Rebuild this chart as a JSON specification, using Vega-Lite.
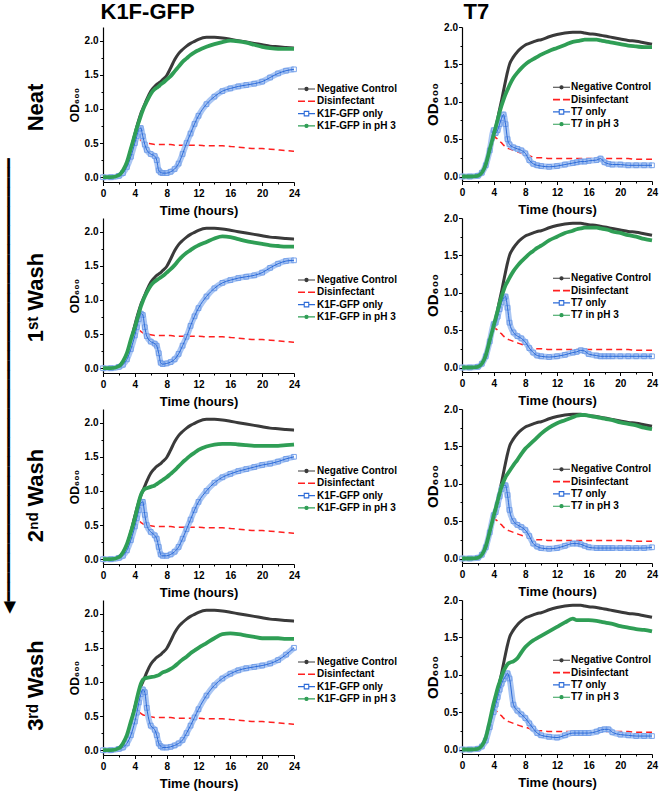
{
"$schema": "https://vega.github.io/schema/vega-lite/v6.json",
"padding": {"left": 0, "top": 0, "right": 0, "bottom": 0},
"autosize": {"type": "pad"},
"config": {
 "font": "Liberation Sans",
 "view": {"stroke": null},
 "axis": {"grid": false, "domainColor": "#000", "domainWidth": 1.2, "tickColor": "#000", "tickWidth": 1, "labelColor": "#000", "labelFont": "Liberation Sans", "labelFontSize": 10, "labelFontWeight": "bold", "titleColor": "#000", "titleFont": "Liberation Sans", "titleFontWeight": "bold", "titleFontSize": 13, "labelOverlap": false, "labelFlush": false},
 "legend": {"labelFont": "Liberation Sans", "labelFontSize": 10, "labelFontWeight": "bold", "labelColor": "#000", "padding": 0, "rowPadding": 2.3, "symbolSize": 100, "symbolStrokeWidth": 1, "labelLimit": 200},
 "title": {"font": "Liberation Sans", "color": "#000", "fontWeight": "bold"}
},
"datasets": {
 "k1f": [
  {"t":0,"nc":0,"dis":0,"o1":0,"p1":0,"o2":0,"p2":0,"o3":0,"p3":0,"o4":0,"p4":0},
  {"t":1,"nc":0,"dis":0,"o1":0,"p1":0,"o2":0,"p2":0,"o3":0,"p3":0,"o4":0,"p4":0},
  {"t":2,"nc":0.03,"dis":0.03,"o1":0.02,"p1":0.03,"o2":0.02,"p2":0.03,"o3":0.02,"p3":0.03,"o4":0.02,"p4":0.03},
  {"t":2.5,"nc":0.09,"dis":0.08,"o1":0.06,"p1":0.1,"o2":0.05,"p2":0.1,"o3":0.05,"p3":0.1,"o4":0.04,"p4":0.1},
  {"t":3,"nc":0.2,"dis":0.18,"o1":0.15,"p1":0.22,"o2":0.13,"p2":0.22,"o3":0.13,"p3":0.22,"o4":0.1,"p4":0.22},
  {"t":3.5,"nc":0.4,"dis":0.35,"o1":0.3,"p1":0.42,"o2":0.28,"p2":0.42,"o3":0.28,"p3":0.4,"o4":0.22,"p4":0.42},
  {"t":4,"nc":0.63,"dis":0.5,"o1":0.5,"p1":0.62,"o2":0.48,"p2":0.6,"o3":0.48,"p3":0.6,"o4":0.42,"p4":0.62},
  {"t":4.25,"nc":0.74,"dis":0.55,"o1":0.6,"p1":0.72,"o2":0.6,"p2":0.7,"o3":0.6,"p3":0.72,"o4":0.55,"p4":0.75},
  {"t":4.5,"nc":0.84,"dis":0.56,"o1":0.7,"p1":0.81,"o2":0.72,"p2":0.8,"o3":0.72,"p3":0.84,"o4":0.7,"p4":0.87},
  {"t":4.75,"nc":0.93,"dis":0.54,"o1":0.72,"p1":0.9,"o2":0.8,"p2":0.9,"o3":0.82,"p3":0.94,"o4":0.82,"p4":0.97},
  {"t":5,"nc":1.0,"dis":0.52,"o1":0.6,"p1":0.98,"o2":0.78,"p2":0.98,"o3":0.84,"p3":1.0,"o4":0.89,"p4":1.03},
  {"t":5.25,"nc":1.07,"dis":0.51,"o1":0.48,"p1":1.05,"o2":0.6,"p2":1.05,"o3":0.65,"p3":1.03,"o4":0.85,"p4":1.05},
  {"t":5.5,"nc":1.14,"dis":0.5,"o1":0.4,"p1":1.11,"o2":0.47,"p2":1.11,"o3":0.5,"p3":1.04,"o4":0.62,"p4":1.06},
  {"t":6,"nc":1.26,"dis":0.49,"o1":0.34,"p1":1.22,"o2":0.39,"p2":1.21,"o3":0.4,"p3":1.06,"o4":0.36,"p4":1.07},
  {"t":6.5,"nc":1.33,"dis":0.48,"o1":0.31,"p1":1.29,"o2":0.36,"p2":1.27,"o3":0.35,"p3":1.08,"o4":0.3,"p4":1.08},
  {"t":6.75,"nc":1.36,"dis":0.48,"o1":0.25,"p1":1.31,"o2":0.33,"p2":1.29,"o3":0.3,"p3":1.1,"o4":0.22,"p4":1.09},
  {"t":7,"nc":1.38,"dis":0.48,"o1":0.1,"p1":1.33,"o2":0.22,"p2":1.31,"o3":0.18,"p3":1.12,"o4":0.1,"p4":1.1},
  {"t":7.25,"nc":1.4,"dis":0.48,"o1":0.07,"p1":1.36,"o2":0.08,"p2":1.33,"o3":0.07,"p3":1.14,"o4":0.06,"p4":1.12},
  {"t":7.5,"nc":1.43,"dis":0.48,"o1":0.06,"p1":1.38,"o2":0.06,"p2":1.35,"o3":0.05,"p3":1.16,"o4":0.04,"p4":1.14},
  {"t":8,"nc":1.49,"dis":0.48,"o1":0.06,"p1":1.43,"o2":0.07,"p2":1.4,"o3":0.05,"p3":1.2,"o4":0.04,"p4":1.16},
  {"t":8.5,"nc":1.6,"dis":0.48,"o1":0.08,"p1":1.48,"o2":0.09,"p2":1.45,"o3":0.07,"p3":1.25,"o4":0.05,"p4":1.19},
  {"t":9,"nc":1.72,"dis":0.47,"o1":0.12,"p1":1.55,"o2":0.13,"p2":1.51,"o3":0.11,"p3":1.3,"o4":0.07,"p4":1.23},
  {"t":9.5,"nc":1.81,"dis":0.47,"o1":0.2,"p1":1.62,"o2":0.21,"p2":1.58,"o3":0.18,"p3":1.36,"o4":0.1,"p4":1.28},
  {"t":10,"nc":1.87,"dis":0.47,"o1":0.34,"p1":1.69,"o2":0.33,"p2":1.64,"o3":0.3,"p3":1.42,"o4":0.15,"p4":1.33},
  {"t":10.5,"nc":1.92,"dis":0.47,"o1":0.5,"p1":1.74,"o2":0.46,"p2":1.69,"o3":0.44,"p3":1.47,"o4":0.25,"p4":1.37},
  {"t":11,"nc":1.96,"dis":0.47,"o1":0.64,"p1":1.79,"o2":0.62,"p2":1.73,"o3":0.58,"p3":1.52,"o4":0.36,"p4":1.42},
  {"t":11.5,"nc":1.99,"dis":0.47,"o1":0.78,"p1":1.83,"o2":0.76,"p2":1.77,"o3":0.72,"p3":1.56,"o4":0.48,"p4":1.46},
  {"t":12,"nc":2.02,"dis":0.47,"o1":0.9,"p1":1.86,"o2":0.88,"p2":1.8,"o3":0.84,"p3":1.6,"o4":0.6,"p4":1.5},
  {"t":13,"nc":2.05,"dis":0.46,"o1":1.07,"p1":1.91,"o2":1.05,"p2":1.85,"o3":1.0,"p3":1.65,"o4":0.8,"p4":1.57},
  {"t":14,"nc":2.05,"dis":0.46,"o1":1.18,"p1":1.95,"o2":1.17,"p2":1.9,"o3":1.12,"p3":1.68,"o4":0.95,"p4":1.64},
  {"t":15,"nc":2.04,"dis":0.46,"o1":1.26,"p1":1.98,"o2":1.25,"p2":1.93,"o3":1.2,"p3":1.69,"o4":1.05,"p4":1.7},
  {"t":16,"nc":2.02,"dis":0.45,"o1":1.3,"p1":2.0,"o2":1.29,"p2":1.92,"o3":1.25,"p3":1.69,"o4":1.12,"p4":1.71},
  {"t":17,"nc":2.0,"dis":0.44,"o1":1.33,"p1":1.99,"o2":1.32,"p2":1.89,"o3":1.29,"p3":1.68,"o4":1.17,"p4":1.7},
  {"t":18,"nc":1.98,"dis":0.43,"o1":1.35,"p1":1.97,"o2":1.34,"p2":1.86,"o3":1.32,"p3":1.67,"o4":1.2,"p4":1.68},
  {"t":19,"nc":1.96,"dis":0.42,"o1":1.37,"p1":1.94,"o2":1.36,"p2":1.84,"o3":1.35,"p3":1.66,"o4":1.22,"p4":1.66},
  {"t":20,"nc":1.94,"dis":0.42,"o1":1.4,"p1":1.91,"o2":1.4,"p2":1.82,"o3":1.38,"p3":1.66,"o4":1.24,"p4":1.64},
  {"t":21,"nc":1.92,"dis":0.41,"o1":1.46,"p1":1.89,"o2":1.47,"p2":1.8,"o3":1.4,"p3":1.66,"o4":1.27,"p4":1.64},
  {"t":22,"nc":1.91,"dis":0.4,"o1":1.52,"p1":1.88,"o2":1.53,"p2":1.79,"o3":1.43,"p3":1.66,"o4":1.32,"p4":1.64},
  {"t":23,"nc":1.9,"dis":0.39,"o1":1.56,"p1":1.88,"o2":1.57,"p2":1.78,"o3":1.47,"p3":1.67,"o4":1.4,"p4":1.63},
  {"t":24,"nc":1.89,"dis":0.38,"o1":1.58,"p1":1.88,"o2":1.58,"p2":1.78,"o3":1.5,"p3":1.68,"o4":1.5,"p4":1.63}
 ],
 "t7": [
  {"t":0,"nc":0,"dis":0,"o1":0,"p1":0,"o2":0,"p2":0,"o3":0,"p3":0,"o4":0,"p4":0},
  {"t":1,"nc":0,"dis":0,"o1":0,"p1":0,"o2":0,"p2":0,"o3":0,"p3":0,"o4":0,"p4":0},
  {"t":2,"nc":0.01,"dis":0.01,"o1":0.01,"p1":0.01,"o2":0.01,"p2":0.01,"o3":0.01,"p3":0.01,"o4":0.01,"p4":0.01},
  {"t":2.5,"nc":0.04,"dis":0.04,"o1":0.05,"p1":0.05,"o2":0.05,"p2":0.05,"o3":0.05,"p3":0.05,"o4":0.04,"p4":0.05},
  {"t":3,"nc":0.14,"dis":0.14,"o1":0.15,"p1":0.16,"o2":0.15,"p2":0.16,"o3":0.15,"p3":0.16,"o4":0.12,"p4":0.16},
  {"t":3.5,"nc":0.32,"dis":0.32,"o1":0.35,"p1":0.36,"o2":0.35,"p2":0.36,"o3":0.35,"p3":0.36,"o4":0.3,"p4":0.38},
  {"t":4,"nc":0.53,"dis":0.55,"o1":0.62,"p1":0.56,"o2":0.58,"p2":0.56,"o3":0.58,"p3":0.57,"o4":0.5,"p4":0.62},
  {"t":4.25,"nc":0.65,"dis":0.52,"o1":0.58,"p1":0.66,"o2":0.6,"p2":0.66,"o3":0.62,"p3":0.67,"o4":0.6,"p4":0.72},
  {"t":4.5,"nc":0.77,"dis":0.5,"o1":0.62,"p1":0.76,"o2":0.68,"p2":0.76,"o3":0.72,"p3":0.77,"o4":0.7,"p4":0.82},
  {"t":4.75,"nc":0.9,"dis":0.47,"o1":0.7,"p1":0.86,"o2":0.78,"p2":0.86,"o3":0.83,"p3":0.87,"o4":0.8,"p4":0.9},
  {"t":5,"nc":1.02,"dis":0.45,"o1":0.78,"p1":0.95,"o2":0.87,"p2":0.95,"o3":0.93,"p3":0.96,"o4":0.88,"p4":0.98},
  {"t":5.25,"nc":1.15,"dis":0.42,"o1":0.83,"p1":1.03,"o2":0.93,"p2":1.03,"o3":0.98,"p3":1.03,"o4":0.94,"p4":1.05},
  {"t":5.5,"nc":1.28,"dis":0.4,"o1":0.7,"p1":1.1,"o2":0.95,"p2":1.1,"o3":0.98,"p3":1.09,"o4":0.98,"p4":1.1},
  {"t":5.75,"nc":1.4,"dis":0.38,"o1":0.5,"p1":1.16,"o2":0.8,"p2":1.15,"o3":0.85,"p3":1.13,"o4":1.02,"p4":1.14},
  {"t":6,"nc":1.5,"dis":0.37,"o1":0.43,"p1":1.22,"o2":0.6,"p2":1.2,"o3":0.65,"p3":1.17,"o4":0.95,"p4":1.16},
  {"t":6.5,"nc":1.6,"dis":0.35,"o1":0.39,"p1":1.32,"o2":0.47,"p2":1.29,"o3":0.5,"p3":1.25,"o4":0.6,"p4":1.18},
  {"t":7,"nc":1.67,"dis":0.33,"o1":0.37,"p1":1.39,"o2":0.42,"p2":1.36,"o3":0.45,"p3":1.32,"o4":0.52,"p4":1.22},
  {"t":7.5,"nc":1.72,"dis":0.31,"o1":0.35,"p1":1.45,"o2":0.39,"p2":1.42,"o3":0.42,"p3":1.4,"o4":0.47,"p4":1.3},
  {"t":8,"nc":1.76,"dis":0.3,"o1":0.31,"p1":1.5,"o2":0.34,"p2":1.47,"o3":0.38,"p3":1.47,"o4":0.42,"p4":1.37},
  {"t":8.5,"nc":1.78,"dis":0.28,"o1":0.22,"p1":1.54,"o2":0.26,"p2":1.52,"o3":0.3,"p3":1.52,"o4":0.35,"p4":1.42},
  {"t":9,"nc":1.8,"dis":0.26,"o1":0.17,"p1":1.57,"o2":0.2,"p2":1.56,"o3":0.2,"p3":1.57,"o4":0.28,"p4":1.46},
  {"t":9.5,"nc":1.82,"dis":0.25,"o1":0.15,"p1":1.6,"o2":0.16,"p2":1.6,"o3":0.16,"p3":1.62,"o4":0.22,"p4":1.49},
  {"t":10,"nc":1.83,"dis":0.25,"o1":0.14,"p1":1.63,"o2":0.15,"p2":1.63,"o3":0.14,"p3":1.67,"o4":0.19,"p4":1.52},
  {"t":11,"nc":1.87,"dis":0.24,"o1":0.13,"p1":1.68,"o2":0.14,"p2":1.7,"o3":0.13,"p3":1.75,"o4":0.17,"p4":1.58},
  {"t":12,"nc":1.9,"dis":0.24,"o1":0.14,"p1":1.72,"o2":0.15,"p2":1.75,"o3":0.14,"p3":1.81,"o4":0.16,"p4":1.64},
  {"t":13,"nc":1.92,"dis":0.24,"o1":0.16,"p1":1.76,"o2":0.17,"p2":1.8,"o3":0.17,"p3":1.85,"o4":0.19,"p4":1.7},
  {"t":14,"nc":1.93,"dis":0.24,"o1":0.18,"p1":1.8,"o2":0.2,"p2":1.83,"o3":0.2,"p3":1.89,"o4":0.22,"p4":1.75},
  {"t":14.5,"nc":1.93,"dis":0.24,"o1":0.19,"p1":1.81,"o2":0.21,"p2":1.85,"o3":0.2,"p3":1.91,"o4":0.22,"p4":1.73},
  {"t":15,"nc":1.93,"dis":0.24,"o1":0.2,"p1":1.82,"o2":0.23,"p2":1.86,"o3":0.19,"p3":1.92,"o4":0.22,"p4":1.73},
  {"t":15.5,"nc":1.92,"dis":0.24,"o1":0.2,"p1":1.83,"o2":0.22,"p2":1.87,"o3":0.17,"p3":1.92,"o4":0.22,"p4":1.73},
  {"t":16,"nc":1.91,"dis":0.24,"o1":0.21,"p1":1.83,"o2":0.18,"p2":1.87,"o3":0.15,"p3":1.91,"o4":0.22,"p4":1.73},
  {"t":17,"nc":1.9,"dis":0.24,"o1":0.22,"p1":1.83,"o2":0.16,"p2":1.87,"o3":0.14,"p3":1.89,"o4":0.24,"p4":1.72},
  {"t":17.5,"nc":1.89,"dis":0.24,"o1":0.24,"p1":1.82,"o2":0.15,"p2":1.86,"o3":0.14,"p3":1.88,"o4":0.26,"p4":1.71},
  {"t":18,"nc":1.88,"dis":0.24,"o1":0.19,"p1":1.81,"o2":0.15,"p2":1.85,"o3":0.14,"p3":1.87,"o4":0.27,"p4":1.7},
  {"t":18.5,"nc":1.87,"dis":0.24,"o1":0.17,"p1":1.8,"o2":0.15,"p2":1.84,"o3":0.14,"p3":1.86,"o4":0.27,"p4":1.69},
  {"t":19,"nc":1.86,"dis":0.24,"o1":0.16,"p1":1.79,"o2":0.15,"p2":1.82,"o3":0.14,"p3":1.85,"o4":0.23,"p4":1.68},
  {"t":20,"nc":1.84,"dis":0.24,"o1":0.16,"p1":1.77,"o2":0.15,"p2":1.8,"o3":0.14,"p3":1.82,"o4":0.2,"p4":1.65},
  {"t":21,"nc":1.82,"dis":0.24,"o1":0.15,"p1":1.75,"o2":0.15,"p2":1.77,"o3":0.14,"p3":1.8,"o4":0.19,"p4":1.63},
  {"t":22,"nc":1.81,"dis":0.23,"o1":0.15,"p1":1.74,"o2":0.15,"p2":1.75,"o3":0.14,"p3":1.78,"o4":0.18,"p4":1.61},
  {"t":23,"nc":1.79,"dis":0.23,"o1":0.15,"p1":1.73,"o2":0.15,"p2":1.72,"o3":0.14,"p3":1.75,"o4":0.18,"p4":1.6},
  {"t":24,"nc":1.77,"dis":0.23,"o1":0.15,"p1":1.73,"o2":0.15,"p2":1.7,"o3":0.15,"p3":1.73,"o4":0.18,"p4":1.58}
 ]
},
"concat": [
 {
  "width": 191, "height": 155,
  "title": {"text": "Neat", "orient": "left", "anchor": "middle", "fontSize": 22, "fontWeight": "bold", "offset": 20, "dx": -3},
  "data": {"name": "k1f"},
  "transform": [{"fold": ["nc", "dis", "o1", "p1"], "as": ["s", "v"]}],
  "encoding": {
   "x": {"field": "t", "type": "quantitative", "scale": {"domain": [0, 24], "nice": false, "zero": false}, "axis": null},
   "y": {"field": "v", "type": "quantitative", "scale": {"domain": [-0.07, 2.2], "nice": false, "zero": false}, "axis": {"values": [0,0.25,0.5,0.75,1,1.25,1.5,1.75,2], "labelExpr": "(datum.value*2) % 1 == 0 ? format(datum.value, '.1f') : ''", "tickSize": {"condition": {"test": "(datum.value*2) % 1 == 0", "value": 3.5}, "value": 2}, "labelPadding": 1.5, "title": "OD₆₀₀", "titleFontSize": 12, "titlePadding": 3}},
   "color": {"field": "s", "type": "nominal", "scale": {"domain": ["nc", "dis", "o1", "p1"], "range": ["#3a3a3a", "#ff2020", "#2c6bd8", "#2f9e55"]},
    "legend": {"orient": "none", "legendX": 198.5, "legendY": 57, "title": null, "labelOffset": 5.5,
     "labelExpr": "datum.label=='nc' ? 'Negative Control' : datum.label=='dis' ? 'Disinfectant' : indexof(datum.label,'o')==0 ? 'K1F-GFP only' : 'K1F-GFP in pH 3'",
     "encode": {"symbols": {"update": {
      "shape": {"signal": "datum.value=='dis' ? 'M-1.7,0H-0.3M0.3,0H1.7' : indexof(datum.value,'o')==0 ? 'M-1.7,0H-0.45M0.45,0H1.7M-0.45,-0.45H0.45V0.45H-0.45Z' : 'M-1.7,0H1.7M-0.32,0A0.32,0.32,0,1,0,0.32,0A0.32,0.32,0,1,0,-0.32,0Z'"},
      "fill": {"signal": "datum.value=='nc' ? '#3a3a3a' : datum.value=='dis' ? 'transparent' : indexof(datum.value,'o')==0 ? '#ffffff' : '#2f9e55'"},
      "stroke": {"signal": "datum.value=='nc' ? '#3a3a3a' : datum.value=='dis' ? '#ff2020' : indexof(datum.value,'o')==0 ? '#4a86e6' : '#2f9e55'"},
      "strokeWidth": {"signal": "datum.value=='dis' ? 1.6 : 1.1"},
      "opacity": {"value": 1}}}}}}
  },
  "resolve": {"axis": {"x": "independent"}},
  "layer": [
   {"transform": [{"filter": "datum.s=='nc'"}], "mark": {"type": "line", "strokeWidth": 3, "interpolate": "monotone"},
    "encoding": {"x": {"field": "t", "type": "quantitative", "scale": {"domain": [0, 24], "nice": false, "zero": false}, "axis": {"values": [0,2,4,6,8,10,12,14,16,18,20,22,24], "labelExpr": "datum.value % 4 == 0 ? datum.label : ''", "tickSize": {"condition": {"test": "datum.value % 4 == 0", "value": 3.5}, "value": 2}, "labelPadding": 3, "title": "Time (hours)", "titlePadding": 6}}}},
   {"transform": [{"filter": "datum.s=='dis'"}], "mark": {"type": "line", "strokeWidth": 1.5, "strokeDash": [6, 4], "interpolate": "monotone"},
    "encoding": {"x": {"field": "t", "type": "quantitative", "scale": {"domain": [0, 24], "nice": false, "zero": false}, "axis": {"orient": "top", "title": "K1F-GFP", "titleFontSize": 22, "titleFontWeight": "bold", "titleAnchor": "start", "titleAlign": "left", "titleX": -3, "domain": false, "ticks": false, "labels": false, "titlePadding": 4}}}},
   {"transform": [{"filter": "datum.s=='o1'"}], "mark": {"type": "line", "strokeWidth": 6, "interpolate": "monotone"}, "encoding": {"color": {"value": "#aac6f3"}}},
   {"transform": [{"filter": "datum.s=='o1'"}], "mark": {"type": "point", "shape": "square", "filled": false, "size": 22, "strokeWidth": 0.9, "opacity": 1}, "encoding": {"color": {"value": "#6d9be8"}}},
   {"transform": [{"filter": "datum.s=='o1'"}], "mark": {"type": "line", "strokeWidth": 1, "interpolate": "monotone"}},
   {"transform": [{"filter": "datum.s=='p1'"}], "mark": {"type": "line", "strokeWidth": 3.8, "interpolate": "monotone"}}
  ]
 },
 {
  "width": 190, "height": 154,
  "data": {"name": "t7"},
  "transform": [{"fold": ["nc", "dis", "o1", "p1"], "as": ["s", "v"]}],
  "encoding": {
   "x": {"field": "t", "type": "quantitative", "scale": {"domain": [0, 24], "nice": false, "zero": false}, "axis": null},
   "y": {"field": "v", "type": "quantitative", "scale": {"domain": [-0.06, 2.0], "nice": false, "zero": false}, "axis": {"values": [0,0.25,0.5,0.75,1,1.25,1.5,1.75,2], "labelExpr": "(datum.value*2) % 1 == 0 ? format(datum.value, '.1f') : ''", "tickSize": {"condition": {"test": "(datum.value*2) % 1 == 0", "value": 3.5}, "value": 2}, "labelPadding": 1, "title": "OD₆₀₀", "titleFontSize": 15, "titlePadding": 3}},
   "color": {"field": "s", "type": "nominal", "scale": {"domain": ["nc", "dis", "o1", "p1"], "range": ["#3a3a3a", "#ff2020", "#2c6bd8", "#2f9e55"]},
    "legend": {"orient": "none", "legendX": 94.5, "legendY": 55.3, "title": null, "labelOffset": 4.5,
     "labelExpr": "datum.label=='nc' ? 'Negative Control' : datum.label=='dis' ? 'Disinfectant' : indexof(datum.label,'o')==0 ? 'T7 only' : 'T7 in pH 3'",
     "encode": {"symbols": {"update": {
      "shape": {"signal": "datum.value=='dis' ? 'M-1.7,0H-0.3M0.3,0H1.7' : indexof(datum.value,'o')==0 ? 'M-1.7,0H-0.45M0.45,0H1.7M-0.45,-0.45H0.45V0.45H-0.45Z' : 'M-1.7,0H1.7M-0.32,0A0.32,0.32,0,1,0,0.32,0A0.32,0.32,0,1,0,-0.32,0Z'"},
      "fill": {"signal": "datum.value=='nc' ? '#3a3a3a' : datum.value=='dis' ? 'transparent' : indexof(datum.value,'o')==0 ? '#ffffff' : '#2f9e55'"},
      "stroke": {"signal": "datum.value=='nc' ? '#3a3a3a' : datum.value=='dis' ? '#ff2020' : indexof(datum.value,'o')==0 ? '#4a86e6' : '#2f9e55'"},
      "strokeWidth": {"signal": "datum.value=='dis' ? 1.6 : 1.1"},
      "opacity": {"value": 1}}}}}}
  },
  "resolve": {"axis": {"x": "independent"}},
  "layer": [
   {"transform": [{"filter": "datum.s=='nc'"}], "mark": {"type": "line", "strokeWidth": 3, "interpolate": "monotone"},
    "encoding": {"x": {"field": "t", "type": "quantitative", "scale": {"domain": [0, 24], "nice": false, "zero": false}, "axis": {"values": [0,2,4,6,8,10,12,14,16,18,20,22,24], "labelExpr": "datum.value % 4 == 0 ? datum.label : ''", "tickSize": {"condition": {"test": "datum.value % 4 == 0", "value": 3.5}, "value": 2}, "labelPadding": 3, "title": "Time (hours)", "titlePadding": 6}}}},
   {"transform": [{"filter": "datum.s=='dis'"}], "mark": {"type": "line", "strokeWidth": 1.5, "strokeDash": [6, 4], "interpolate": "monotone"},
    "encoding": {"x": {"field": "t", "type": "quantitative", "scale": {"domain": [0, 24], "nice": false, "zero": false}, "axis": {"orient": "top", "title": "T7", "titleFontSize": 22, "titleFontWeight": "bold", "titleAnchor": "start", "titleAlign": "left", "titleX": 1, "domain": false, "ticks": false, "labels": false, "titlePadding": 4}}}},
   {"transform": [{"filter": "datum.s=='o1'"}], "mark": {"type": "line", "strokeWidth": 6, "interpolate": "monotone"}, "encoding": {"color": {"value": "#aac6f3"}}},
   {"transform": [{"filter": "datum.s=='o1'"}], "mark": {"type": "point", "shape": "square", "filled": false, "size": 22, "strokeWidth": 0.9, "opacity": 1}, "encoding": {"color": {"value": "#6d9be8"}}},
   {"transform": [{"filter": "datum.s=='o1'"}], "mark": {"type": "line", "strokeWidth": 1, "interpolate": "monotone"}},
   {"transform": [{"filter": "datum.s=='p1'"}], "mark": {"type": "line", "strokeWidth": 3.8, "interpolate": "monotone"}}
  ]
 },
 {
  "width": 191, "height": 155,
  "title": {"text": "1ˢᵗ Wash", "orient": "left", "anchor": "middle", "fontSize": 22, "fontWeight": "bold", "offset": 20, "dx": -2},
  "data": {"name": "k1f"},
  "transform": [{"fold": ["nc", "dis", "o2", "p2"], "as": ["s", "v"]}],
  "encoding": {
   "x": {"field": "t", "type": "quantitative", "scale": {"domain": [0, 24], "nice": false, "zero": false}, "axis": {"values": [0,2,4,6,8,10,12,14,16,18,20,22,24], "labelExpr": "datum.value % 4 == 0 ? datum.label : ''", "tickSize": {"condition": {"test": "datum.value % 4 == 0", "value": 3.5}, "value": 2}, "labelPadding": 3, "title": "Time (hours)", "titlePadding": 6}},
   "y": {"field": "v", "type": "quantitative", "scale": {"domain": [-0.07, 2.2], "nice": false, "zero": false}, "axis": {"values": [0,0.25,0.5,0.75,1,1.25,1.5,1.75,2], "labelExpr": "(datum.value*2) % 1 == 0 ? format(datum.value, '.1f') : ''", "tickSize": {"condition": {"test": "(datum.value*2) % 1 == 0", "value": 3.5}, "value": 2}, "labelPadding": 1.5, "title": "OD₆₀₀", "titleFontSize": 12, "titlePadding": 3}},
   "color": {"field": "s", "type": "nominal", "scale": {"domain": ["nc", "dis", "o2", "p2"], "range": ["#3a3a3a", "#ff2020", "#2c6bd8", "#2f9e55"]},
    "legend": {"orient": "none", "legendX": 198.5, "legendY": 57, "title": null, "labelOffset": 5.5,
     "labelExpr": "datum.label=='nc' ? 'Negative Control' : datum.label=='dis' ? 'Disinfectant' : indexof(datum.label,'o')==0 ? 'K1F-GFP only' : 'K1F-GFP in pH 3'",
     "encode": {"symbols": {"update": {
      "shape": {"signal": "datum.value=='dis' ? 'M-1.7,0H-0.3M0.3,0H1.7' : indexof(datum.value,'o')==0 ? 'M-1.7,0H-0.45M0.45,0H1.7M-0.45,-0.45H0.45V0.45H-0.45Z' : 'M-1.7,0H1.7M-0.32,0A0.32,0.32,0,1,0,0.32,0A0.32,0.32,0,1,0,-0.32,0Z'"},
      "fill": {"signal": "datum.value=='nc' ? '#3a3a3a' : datum.value=='dis' ? 'transparent' : indexof(datum.value,'o')==0 ? '#ffffff' : '#2f9e55'"},
      "stroke": {"signal": "datum.value=='nc' ? '#3a3a3a' : datum.value=='dis' ? '#ff2020' : indexof(datum.value,'o')==0 ? '#4a86e6' : '#2f9e55'"},
      "strokeWidth": {"signal": "datum.value=='dis' ? 1.6 : 1.1"},
      "opacity": {"value": 1}}}}}}
  },
  "layer": [
   {"transform": [{"filter": "datum.s=='nc'"}], "mark": {"type": "line", "strokeWidth": 3, "interpolate": "monotone"}},
   {"transform": [{"filter": "datum.s=='dis'"}], "mark": {"type": "line", "strokeWidth": 1.5, "strokeDash": [6, 4], "interpolate": "monotone"}},
   {"transform": [{"filter": "datum.s=='o2'"}], "mark": {"type": "line", "strokeWidth": 6, "interpolate": "monotone"}, "encoding": {"color": {"value": "#aac6f3"}}},
   {"transform": [{"filter": "datum.s=='o2'"}], "mark": {"type": "point", "shape": "square", "filled": false, "size": 22, "strokeWidth": 0.9, "opacity": 1}, "encoding": {"color": {"value": "#6d9be8"}}},
   {"transform": [{"filter": "datum.s=='o2'"}], "mark": {"type": "line", "strokeWidth": 1, "interpolate": "monotone"}},
   {"transform": [{"filter": "datum.s=='p2'"}], "mark": {"type": "line", "strokeWidth": 3.8, "interpolate": "monotone"}}
  ]
 },
 {
  "width": 190, "height": 154,
  "title": {"text": "◀━━━━━━━━━━━━━━━━━━━━━━━━━━━━━━━━━━━━━━━━━━━━━━", "orient": "left", "anchor": "middle", "font": "DejaVu Sans", "fontSize": 16, "fontWeight": "normal", "offset": 409, "dx": -91},
  "data": {"name": "t7"},
  "transform": [{"fold": ["nc", "dis", "o2", "p2"], "as": ["s", "v"]}],
  "encoding": {
   "x": {"field": "t", "type": "quantitative", "scale": {"domain": [0, 24], "nice": false, "zero": false}, "axis": {"values": [0,2,4,6,8,10,12,14,16,18,20,22,24], "labelExpr": "datum.value % 4 == 0 ? datum.label : ''", "tickSize": {"condition": {"test": "datum.value % 4 == 0", "value": 3.5}, "value": 2}, "labelPadding": 3, "title": "Time (hours)", "titlePadding": 6}},
   "y": {"field": "v", "type": "quantitative", "scale": {"domain": [-0.06, 2.0], "nice": false, "zero": false}, "axis": {"values": [0,0.25,0.5,0.75,1,1.25,1.5,1.75,2], "labelExpr": "(datum.value*2) % 1 == 0 ? format(datum.value, '.1f') : ''", "tickSize": {"condition": {"test": "(datum.value*2) % 1 == 0", "value": 3.5}, "value": 2}, "labelPadding": 1, "title": "OD₆₀₀", "titleFontSize": 15, "titlePadding": 3}},
   "color": {"field": "s", "type": "nominal", "scale": {"domain": ["nc", "dis", "o2", "p2"], "range": ["#3a3a3a", "#ff2020", "#2c6bd8", "#2f9e55"]},
    "legend": {"orient": "none", "legendX": 94.5, "legendY": 55.3, "title": null, "labelOffset": 4.5,
     "labelExpr": "datum.label=='nc' ? 'Negative Control' : datum.label=='dis' ? 'Disinfectant' : indexof(datum.label,'o')==0 ? 'T7 only' : 'T7 in pH 3'",
     "encode": {"symbols": {"update": {
      "shape": {"signal": "datum.value=='dis' ? 'M-1.7,0H-0.3M0.3,0H1.7' : indexof(datum.value,'o')==0 ? 'M-1.7,0H-0.45M0.45,0H1.7M-0.45,-0.45H0.45V0.45H-0.45Z' : 'M-1.7,0H1.7M-0.32,0A0.32,0.32,0,1,0,0.32,0A0.32,0.32,0,1,0,-0.32,0Z'"},
      "fill": {"signal": "datum.value=='nc' ? '#3a3a3a' : datum.value=='dis' ? 'transparent' : indexof(datum.value,'o')==0 ? '#ffffff' : '#2f9e55'"},
      "stroke": {"signal": "datum.value=='nc' ? '#3a3a3a' : datum.value=='dis' ? '#ff2020' : indexof(datum.value,'o')==0 ? '#4a86e6' : '#2f9e55'"},
      "strokeWidth": {"signal": "datum.value=='dis' ? 1.6 : 1.1"},
      "opacity": {"value": 1}}}}}}
  },
  "layer": [
   {"transform": [{"filter": "datum.s=='nc'"}], "mark": {"type": "line", "strokeWidth": 3, "interpolate": "monotone"}},
   {"transform": [{"filter": "datum.s=='dis'"}], "mark": {"type": "line", "strokeWidth": 1.5, "strokeDash": [6, 4], "interpolate": "monotone"}},
   {"transform": [{"filter": "datum.s=='o2'"}], "mark": {"type": "line", "strokeWidth": 6, "interpolate": "monotone"}, "encoding": {"color": {"value": "#aac6f3"}}},
   {"transform": [{"filter": "datum.s=='o2'"}], "mark": {"type": "point", "shape": "square", "filled": false, "size": 22, "strokeWidth": 0.9, "opacity": 1}, "encoding": {"color": {"value": "#6d9be8"}}},
   {"transform": [{"filter": "datum.s=='o2'"}], "mark": {"type": "line", "strokeWidth": 1, "interpolate": "monotone"}},
   {"transform": [{"filter": "datum.s=='p2'"}], "mark": {"type": "line", "strokeWidth": 3.8, "interpolate": "monotone"}}
  ]
 },
 {
  "width": 191, "height": 155,
  "title": {"text": "2ⁿᵈ Wash", "orient": "left", "anchor": "middle", "fontSize": 22, "fontWeight": "bold", "offset": 20, "dx": -9},
  "data": {"name": "k1f"},
  "transform": [{"fold": ["nc", "dis", "o3", "p3"], "as": ["s", "v"]}],
  "encoding": {
   "x": {"field": "t", "type": "quantitative", "scale": {"domain": [0, 24], "nice": false, "zero": false}, "axis": {"values": [0,2,4,6,8,10,12,14,16,18,20,22,24], "labelExpr": "datum.value % 4 == 0 ? datum.label : ''", "tickSize": {"condition": {"test": "datum.value % 4 == 0", "value": 3.5}, "value": 2}, "labelPadding": 3, "title": "Time (hours)", "titlePadding": 6}},
   "y": {"field": "v", "type": "quantitative", "scale": {"domain": [-0.07, 2.2], "nice": false, "zero": false}, "axis": {"values": [0,0.25,0.5,0.75,1,1.25,1.5,1.75,2], "labelExpr": "(datum.value*2) % 1 == 0 ? format(datum.value, '.1f') : ''", "tickSize": {"condition": {"test": "(datum.value*2) % 1 == 0", "value": 3.5}, "value": 2}, "labelPadding": 1.5, "title": "OD₆₀₀", "titleFontSize": 12, "titlePadding": 3}},
   "color": {"field": "s", "type": "nominal", "scale": {"domain": ["nc", "dis", "o3", "p3"], "range": ["#3a3a3a", "#ff2020", "#2c6bd8", "#2f9e55"]},
    "legend": {"orient": "none", "legendX": 198.5, "legendY": 57, "title": null, "labelOffset": 5.5,
     "labelExpr": "datum.label=='nc' ? 'Negative Control' : datum.label=='dis' ? 'Disinfectant' : indexof(datum.label,'o')==0 ? 'K1F-GFP only' : 'K1F-GFP in pH 3'",
     "encode": {"symbols": {"update": {
      "shape": {"signal": "datum.value=='dis' ? 'M-1.7,0H-0.3M0.3,0H1.7' : indexof(datum.value,'o')==0 ? 'M-1.7,0H-0.45M0.45,0H1.7M-0.45,-0.45H0.45V0.45H-0.45Z' : 'M-1.7,0H1.7M-0.32,0A0.32,0.32,0,1,0,0.32,0A0.32,0.32,0,1,0,-0.32,0Z'"},
      "fill": {"signal": "datum.value=='nc' ? '#3a3a3a' : datum.value=='dis' ? 'transparent' : indexof(datum.value,'o')==0 ? '#ffffff' : '#2f9e55'"},
      "stroke": {"signal": "datum.value=='nc' ? '#3a3a3a' : datum.value=='dis' ? '#ff2020' : indexof(datum.value,'o')==0 ? '#4a86e6' : '#2f9e55'"},
      "strokeWidth": {"signal": "datum.value=='dis' ? 1.6 : 1.1"},
      "opacity": {"value": 1}}}}}}
  },
  "layer": [
   {"transform": [{"filter": "datum.s=='nc'"}], "mark": {"type": "line", "strokeWidth": 3, "interpolate": "monotone"}},
   {"transform": [{"filter": "datum.s=='dis'"}], "mark": {"type": "line", "strokeWidth": 1.5, "strokeDash": [6, 4], "interpolate": "monotone"}},
   {"transform": [{"filter": "datum.s=='o3'"}], "mark": {"type": "line", "strokeWidth": 6, "interpolate": "monotone"}, "encoding": {"color": {"value": "#aac6f3"}}},
   {"transform": [{"filter": "datum.s=='o3'"}], "mark": {"type": "point", "shape": "square", "filled": false, "size": 22, "strokeWidth": 0.9, "opacity": 1}, "encoding": {"color": {"value": "#6d9be8"}}},
   {"transform": [{"filter": "datum.s=='o3'"}], "mark": {"type": "line", "strokeWidth": 1, "interpolate": "monotone"}},
   {"transform": [{"filter": "datum.s=='p3'"}], "mark": {"type": "line", "strokeWidth": 3.8, "interpolate": "monotone"}}
  ]
 },
 {
  "width": 190, "height": 154,
  "data": {"name": "t7"},
  "transform": [{"fold": ["nc", "dis", "o3", "p3"], "as": ["s", "v"]}],
  "encoding": {
   "x": {"field": "t", "type": "quantitative", "scale": {"domain": [0, 24], "nice": false, "zero": false}, "axis": {"values": [0,2,4,6,8,10,12,14,16,18,20,22,24], "labelExpr": "datum.value % 4 == 0 ? datum.label : ''", "tickSize": {"condition": {"test": "datum.value % 4 == 0", "value": 3.5}, "value": 2}, "labelPadding": 3, "title": "Time (hours)", "titlePadding": 6}},
   "y": {"field": "v", "type": "quantitative", "scale": {"domain": [-0.06, 2.0], "nice": false, "zero": false}, "axis": {"values": [0,0.25,0.5,0.75,1,1.25,1.5,1.75,2], "labelExpr": "(datum.value*2) % 1 == 0 ? format(datum.value, '.1f') : ''", "tickSize": {"condition": {"test": "(datum.value*2) % 1 == 0", "value": 3.5}, "value": 2}, "labelPadding": 1, "title": "OD₆₀₀", "titleFontSize": 15, "titlePadding": 3}},
   "color": {"field": "s", "type": "nominal", "scale": {"domain": ["nc", "dis", "o3", "p3"], "range": ["#3a3a3a", "#ff2020", "#2c6bd8", "#2f9e55"]},
    "legend": {"orient": "none", "legendX": 94.5, "legendY": 55.3, "title": null, "labelOffset": 4.5,
     "labelExpr": "datum.label=='nc' ? 'Negative Control' : datum.label=='dis' ? 'Disinfectant' : indexof(datum.label,'o')==0 ? 'T7 only' : 'T7 in pH 3'",
     "encode": {"symbols": {"update": {
      "shape": {"signal": "datum.value=='dis' ? 'M-1.7,0H-0.3M0.3,0H1.7' : indexof(datum.value,'o')==0 ? 'M-1.7,0H-0.45M0.45,0H1.7M-0.45,-0.45H0.45V0.45H-0.45Z' : 'M-1.7,0H1.7M-0.32,0A0.32,0.32,0,1,0,0.32,0A0.32,0.32,0,1,0,-0.32,0Z'"},
      "fill": {"signal": "datum.value=='nc' ? '#3a3a3a' : datum.value=='dis' ? 'transparent' : indexof(datum.value,'o')==0 ? '#ffffff' : '#2f9e55'"},
      "stroke": {"signal": "datum.value=='nc' ? '#3a3a3a' : datum.value=='dis' ? '#ff2020' : indexof(datum.value,'o')==0 ? '#4a86e6' : '#2f9e55'"},
      "strokeWidth": {"signal": "datum.value=='dis' ? 1.6 : 1.1"},
      "opacity": {"value": 1}}}}}}
  },
  "layer": [
   {"transform": [{"filter": "datum.s=='nc'"}], "mark": {"type": "line", "strokeWidth": 3, "interpolate": "monotone"}},
   {"transform": [{"filter": "datum.s=='dis'"}], "mark": {"type": "line", "strokeWidth": 1.5, "strokeDash": [6, 4], "interpolate": "monotone"}},
   {"transform": [{"filter": "datum.s=='o3'"}], "mark": {"type": "line", "strokeWidth": 6, "interpolate": "monotone"}, "encoding": {"color": {"value": "#aac6f3"}}},
   {"transform": [{"filter": "datum.s=='o3'"}], "mark": {"type": "point", "shape": "square", "filled": false, "size": 22, "strokeWidth": 0.9, "opacity": 1}, "encoding": {"color": {"value": "#6d9be8"}}},
   {"transform": [{"filter": "datum.s=='o3'"}], "mark": {"type": "line", "strokeWidth": 1, "interpolate": "monotone"}},
   {"transform": [{"filter": "datum.s=='p3'"}], "mark": {"type": "line", "strokeWidth": 3.8, "interpolate": "monotone"}}
  ]
 },
 {
  "width": 191, "height": 155,
  "title": {"text": "3ʳᵈ Wash", "orient": "left", "anchor": "middle", "fontSize": 22, "fontWeight": "bold", "offset": 20, "dx": -8},
  "data": {"name": "k1f"},
  "transform": [{"fold": ["nc", "dis", "o4", "p4"], "as": ["s", "v"]}],
  "encoding": {
   "x": {"field": "t", "type": "quantitative", "scale": {"domain": [0, 24], "nice": false, "zero": false}, "axis": {"values": [0,2,4,6,8,10,12,14,16,18,20,22,24], "labelExpr": "datum.value % 4 == 0 ? datum.label : ''", "tickSize": {"condition": {"test": "datum.value % 4 == 0", "value": 3.5}, "value": 2}, "labelPadding": 3, "title": "Time (hours)", "titlePadding": 6}},
   "y": {"field": "v", "type": "quantitative", "scale": {"domain": [-0.07, 2.2], "nice": false, "zero": false}, "axis": {"values": [0,0.25,0.5,0.75,1,1.25,1.5,1.75,2], "labelExpr": "(datum.value*2) % 1 == 0 ? format(datum.value, '.1f') : ''", "tickSize": {"condition": {"test": "(datum.value*2) % 1 == 0", "value": 3.5}, "value": 2}, "labelPadding": 1.5, "title": "OD₆₀₀", "titleFontSize": 12, "titlePadding": 3}},
   "color": {"field": "s", "type": "nominal", "scale": {"domain": ["nc", "dis", "o4", "p4"], "range": ["#3a3a3a", "#ff2020", "#2c6bd8", "#2f9e55"]},
    "legend": {"orient": "none", "legendX": 198.5, "legendY": 57, "title": null, "labelOffset": 5.5,
     "labelExpr": "datum.label=='nc' ? 'Negative Control' : datum.label=='dis' ? 'Disinfectant' : indexof(datum.label,'o')==0 ? 'K1F-GFP only' : 'K1F-GFP in pH 3'",
     "encode": {"symbols": {"update": {
      "shape": {"signal": "datum.value=='dis' ? 'M-1.7,0H-0.3M0.3,0H1.7' : indexof(datum.value,'o')==0 ? 'M-1.7,0H-0.45M0.45,0H1.7M-0.45,-0.45H0.45V0.45H-0.45Z' : 'M-1.7,0H1.7M-0.32,0A0.32,0.32,0,1,0,0.32,0A0.32,0.32,0,1,0,-0.32,0Z'"},
      "fill": {"signal": "datum.value=='nc' ? '#3a3a3a' : datum.value=='dis' ? 'transparent' : indexof(datum.value,'o')==0 ? '#ffffff' : '#2f9e55'"},
      "stroke": {"signal": "datum.value=='nc' ? '#3a3a3a' : datum.value=='dis' ? '#ff2020' : indexof(datum.value,'o')==0 ? '#4a86e6' : '#2f9e55'"},
      "strokeWidth": {"signal": "datum.value=='dis' ? 1.6 : 1.1"},
      "opacity": {"value": 1}}}}}}
  },
  "layer": [
   {"transform": [{"filter": "datum.s=='nc'"}], "mark": {"type": "line", "strokeWidth": 3, "interpolate": "monotone"}},
   {"transform": [{"filter": "datum.s=='dis'"}], "mark": {"type": "line", "strokeWidth": 1.5, "strokeDash": [6, 4], "interpolate": "monotone"}},
   {"transform": [{"filter": "datum.s=='o4'"}], "mark": {"type": "line", "strokeWidth": 6, "interpolate": "monotone"}, "encoding": {"color": {"value": "#aac6f3"}}},
   {"transform": [{"filter": "datum.s=='o4'"}], "mark": {"type": "point", "shape": "square", "filled": false, "size": 22, "strokeWidth": 0.9, "opacity": 1}, "encoding": {"color": {"value": "#6d9be8"}}},
   {"transform": [{"filter": "datum.s=='o4'"}], "mark": {"type": "line", "strokeWidth": 1, "interpolate": "monotone"}},
   {"transform": [{"filter": "datum.s=='p4'"}], "mark": {"type": "line", "strokeWidth": 3.8, "interpolate": "monotone"}}
  ]
 },
 {
  "width": 190, "height": 154,
  "data": {"name": "t7"},
  "transform": [{"fold": ["nc", "dis", "o4", "p4"], "as": ["s", "v"]}],
  "encoding": {
   "x": {"field": "t", "type": "quantitative", "scale": {"domain": [0, 24], "nice": false, "zero": false}, "axis": {"values": [0,2,4,6,8,10,12,14,16,18,20,22,24], "labelExpr": "datum.value % 4 == 0 ? datum.label : ''", "tickSize": {"condition": {"test": "datum.value % 4 == 0", "value": 3.5}, "value": 2}, "labelPadding": 3, "title": "Time (hours)", "titlePadding": 6}},
   "y": {"field": "v", "type": "quantitative", "scale": {"domain": [-0.06, 2.0], "nice": false, "zero": false}, "axis": {"values": [0,0.25,0.5,0.75,1,1.25,1.5,1.75,2], "labelExpr": "(datum.value*2) % 1 == 0 ? format(datum.value, '.1f') : ''", "tickSize": {"condition": {"test": "(datum.value*2) % 1 == 0", "value": 3.5}, "value": 2}, "labelPadding": 1, "title": "OD₆₀₀", "titleFontSize": 15, "titlePadding": 3}},
   "color": {"field": "s", "type": "nominal", "scale": {"domain": ["nc", "dis", "o4", "p4"], "range": ["#3a3a3a", "#ff2020", "#2c6bd8", "#2f9e55"]},
    "legend": {"orient": "none", "legendX": 94.5, "legendY": 55.3, "title": null, "labelOffset": 4.5,
     "labelExpr": "datum.label=='nc' ? 'Negative Control' : datum.label=='dis' ? 'Disinfectant' : indexof(datum.label,'o')==0 ? 'T7 only' : 'T7 in pH 3'",
     "encode": {"symbols": {"update": {
      "shape": {"signal": "datum.value=='dis' ? 'M-1.7,0H-0.3M0.3,0H1.7' : indexof(datum.value,'o')==0 ? 'M-1.7,0H-0.45M0.45,0H1.7M-0.45,-0.45H0.45V0.45H-0.45Z' : 'M-1.7,0H1.7M-0.32,0A0.32,0.32,0,1,0,0.32,0A0.32,0.32,0,1,0,-0.32,0Z'"},
      "fill": {"signal": "datum.value=='nc' ? '#3a3a3a' : datum.value=='dis' ? 'transparent' : indexof(datum.value,'o')==0 ? '#ffffff' : '#2f9e55'"},
      "stroke": {"signal": "datum.value=='nc' ? '#3a3a3a' : datum.value=='dis' ? '#ff2020' : indexof(datum.value,'o')==0 ? '#4a86e6' : '#2f9e55'"},
      "strokeWidth": {"signal": "datum.value=='dis' ? 1.6 : 1.1"},
      "opacity": {"value": 1}}}}}}
  },
  "layer": [
   {"transform": [{"filter": "datum.s=='nc'"}], "mark": {"type": "line", "strokeWidth": 3, "interpolate": "monotone"}},
   {"transform": [{"filter": "datum.s=='dis'"}], "mark": {"type": "line", "strokeWidth": 1.5, "strokeDash": [6, 4], "interpolate": "monotone"}},
   {"transform": [{"filter": "datum.s=='o4'"}], "mark": {"type": "line", "strokeWidth": 6, "interpolate": "monotone"}, "encoding": {"color": {"value": "#aac6f3"}}},
   {"transform": [{"filter": "datum.s=='o4'"}], "mark": {"type": "point", "shape": "square", "filled": false, "size": 22, "strokeWidth": 0.9, "opacity": 1}, "encoding": {"color": {"value": "#6d9be8"}}},
   {"transform": [{"filter": "datum.s=='o4'"}], "mark": {"type": "line", "strokeWidth": 1, "interpolate": "monotone"}},
   {"transform": [{"filter": "datum.s=='p4'"}], "mark": {"type": "line", "strokeWidth": 3.8, "interpolate": "monotone"}}
  ]
 }
],
"columns": 2,
"spacing": {"row": 36, "column": 168},
"bounds": "flush",
"resolve": {"scale": {"color": "independent"}, "legend": {"color": "independent"}}
}
